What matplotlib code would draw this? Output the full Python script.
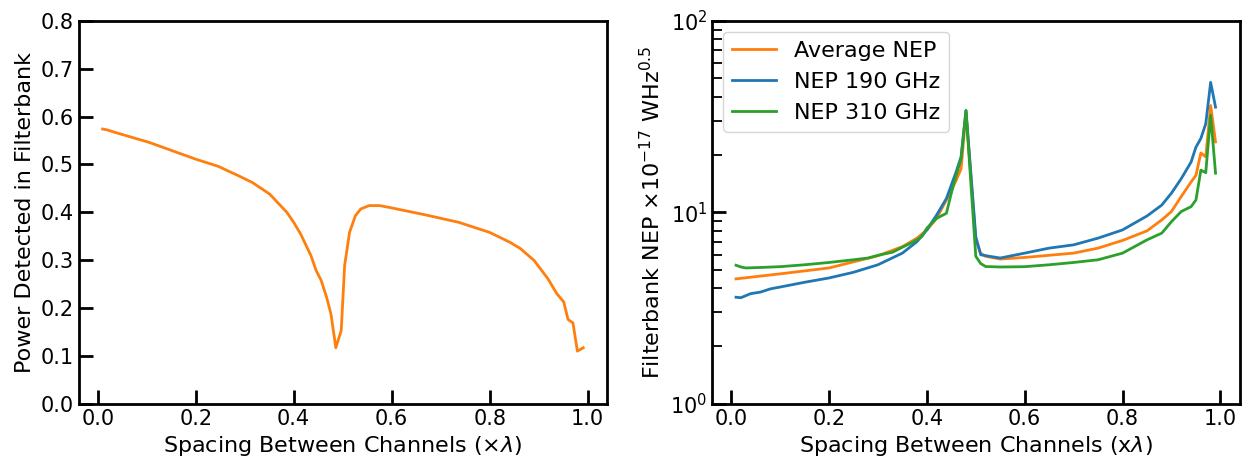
import matplotlib
matplotlib.use("Agg")
import matplotlib.pyplot as plt

# Left panel: power detected vs channel spacing
spacing_pow = [0.01, 0.02, 0.035, 0.105, 0.2, 0.246, 0.288, 0.316, 0.351, 0.386,
               0.40, 0.414, 0.435, 0.446, 0.456, 0.467, 0.476, 0.486, 0.497, 0.504,
               0.514, 0.526, 0.537, 0.554, 0.575, 0.596, 0.667, 0.737, 0.80, 0.842,
               0.863, 0.891, 0.919, 0.937, 0.951, 0.96, 0.97, 0.979, 0.991]
power = [0.574, 0.572, 0.567, 0.546, 0.511, 0.496, 0.476, 0.462, 0.438, 0.400,
         0.379, 0.355, 0.310, 0.278, 0.258, 0.223, 0.188, 0.117, 0.153, 0.289,
         0.358, 0.393, 0.407, 0.414, 0.414, 0.410, 0.395, 0.379, 0.358, 0.337,
         0.324, 0.299, 0.261, 0.230, 0.213, 0.176, 0.169, 0.110, 0.117]

# Right panel: NEP curves
spacing_avg = [0.01, 0.10, 0.20, 0.30, 0.35, 0.38, 0.40, 0.42, 0.44, 0.46, 0.47, 0.48,
               0.50, 0.51, 0.52, 0.55, 0.60, 0.70, 0.75, 0.80, 0.85, 0.88, 0.90, 0.92,
               0.94, 0.95, 0.96, 0.97, 0.98, 0.99]
nep_avg = [4.49, 4.77, 5.12, 5.93, 6.62, 7.33, 8.09, 9.3, 11.6, 14.7, 16.9, 33.3,
           7.17, 6.12, 5.89, 5.70, 5.81, 6.12, 6.50, 7.13, 8.0, 9.12, 10.1, 12.1,
           14.4, 15.6, 20.4, 19.5, 36.1, 23.3]

spacing_190 = [0.01, 0.02, 0.03, 0.04, 0.06, 0.08, 0.10, 0.15, 0.20, 0.25, 0.30, 0.35,
               0.38, 0.40, 0.42, 0.44, 0.46, 0.47, 0.48, 0.50, 0.51, 0.53, 0.55, 0.60,
               0.65, 0.70, 0.75, 0.80, 0.85, 0.88, 0.90, 0.92, 0.94, 0.95, 0.96, 0.97,
               0.98, 0.99]
nep_190 = [3.6, 3.58, 3.67, 3.76, 3.83, 3.98, 4.07, 4.31, 4.54, 4.86, 5.32, 6.12,
           7.03, 8.09, 9.68, 11.8, 16.3, 19.5, 34.0, 7.47, 6.0, 5.88, 5.77, 6.12,
           6.5, 6.76, 7.33, 8.09, 9.57, 10.9, 12.6, 15.0, 18.3, 21.9, 24.3, 29.0,
           47.7, 35.4]

spacing_310 = [0.01, 0.02, 0.03, 0.06, 0.10, 0.15, 0.20, 0.25, 0.28, 0.30, 0.33, 0.35,
               0.37, 0.39, 0.40, 0.42, 0.44, 0.45, 0.46, 0.47, 0.48, 0.50, 0.51, 0.52,
               0.55, 0.60, 0.65, 0.70, 0.75, 0.80, 0.85, 0.88, 0.90, 0.92, 0.94, 0.95,
               0.96, 0.97, 0.98, 0.99]
nep_310 = [5.29, 5.18, 5.12, 5.15, 5.20, 5.32, 5.47, 5.65, 5.77, 5.96, 6.19, 6.57,
           6.95, 7.47, 8.26, 9.3, 9.88, 12.6, 15.6, 19.1, 34.0, 5.89, 5.4, 5.21,
           5.18, 5.2, 5.32, 5.47, 5.65, 6.12, 7.18, 7.78, 8.94, 10.1, 10.7, 11.6,
           16.6, 16.1, 32.1, 16.0]

plt.rcParams['font.size'] = 15
plt.rcParams['axes.labelsize'] = 16

fig, (ax1, ax2) = plt.subplots(1, 2, figsize=(12.47, 4.62), dpi=100)
ax1.set_position([0.063, 0.126, 0.424, 0.829])
ax2.set_position([0.571, 0.126, 0.423, 0.829])

ax1.plot(spacing_pow, power, color='#ff7f0e', lw=2)
ax1.set_ylim(0, 0.8)
ax1.set_xlabel(r"Spacing Between Channels ($\times\lambda$)")
ax1.set_ylabel("Power Detected in Filterbank")

ax2.plot(spacing_avg, nep_avg, color='#ff7f0e', lw=2, label="Average NEP")
ax2.plot(spacing_190, nep_190, color='#1f77b4', lw=2, label="NEP 190 GHz")
ax2.plot(spacing_310, nep_310, color='#2ca02c', lw=2, label="NEP 310 GHz")
ax2.set_yscale('log')
ax2.set_ylim(1, 100)
ax2.set_xlabel(r"Spacing Between Channels (x$\lambda$)")
ax2.set_ylabel(r"Filterbank NEP $\times10^{-17}$ WHz$^{0.5}$")
ax2.legend(loc='upper left', fontsize=16)

for ax in (ax1, ax2):
    ax.tick_params(which='major', direction='in', length=10, width=2)
    ax.tick_params(which='minor', direction='in', length=7, width=1.3)
    for s in ax.spines.values():
        s.set_linewidth(2)

plt.savefig("out.png", dpi=100)
